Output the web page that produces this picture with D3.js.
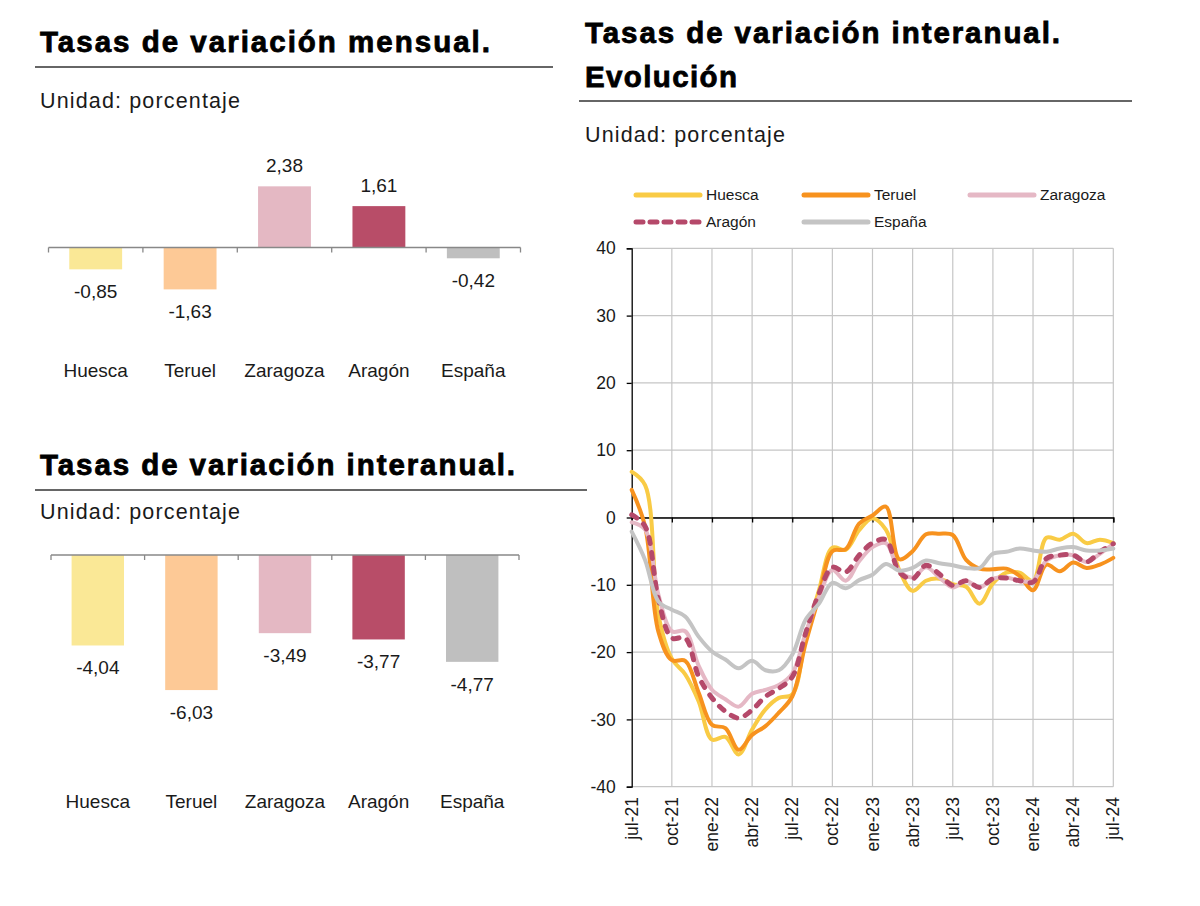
<!DOCTYPE html>
<html><head><meta charset="utf-8">
<script src="https://cdn.jsdelivr.net/npm/d3@7"></script>
<style>
body{margin:0;background:#fff}
svg text{font-family:"Liberation Sans",Arial,Helvetica,sans-serif;fill:#1a1a1a}
</style>
</head><body>
<svg id="c" width="1200" height="906"></svg>
<script>
// ---------- DATA ----------
const categories = ["Huesca","Teruel","Zaragoza","Aragón","España"];
const mensual = [-0.85,-1.63,2.38,1.61,-0.42];
const interanual = [-4.04,-6.03,-3.49,-3.77,-4.77];
const barColors = ["#FAE896","#FDC996","#E4B8C3","#B84D68","#BFBFBF"];

const months = ["jul-21","ago-21","sep-21","oct-21","nov-21","dic-21","ene-22","feb-22","mar-22","abr-22","may-22","jun-22",
  "jul-22","ago-22","sep-22","oct-22","nov-22","dic-22","ene-23","feb-23","mar-23","abr-23","may-23","jun-23",
  "jul-23","ago-23","sep-23","oct-23","nov-23","dic-23","ene-24","feb-24","mar-24","abr-24","may-24","jun-24","jul-24"];
const tickMonths = ["jul-21","oct-21","ene-22","abr-22","jul-22","oct-22","ene-23","abr-23","jul-23","oct-23","ene-24","abr-24","jul-24"];
const yTicks = [40,30,20,10,0,-10,-20,-30,-40];

const huesca   = [6.8,4.8,-14.5,-21,-23.3,-27.3,-33,-32.6,-35.2,-31.5,-28.5,-26.8,-26.3,-17.8,-10.8,-4.5,-4.8,-1.9,-0.1,-1.8,-7.8,-10.9,-9.4,-9.1,-9.9,-10.3,-12.8,-9.8,-8.2,-8.2,-9.4,-3,-3.3,-2.4,-3.8,-3.3,-3.8];
const teruel   = [4.1,-1.3,-17,-21.2,-21.3,-26,-30.8,-31.3,-34.5,-32.3,-31,-29,-26.6,-18.7,-11.8,-5,-4.7,-0.9,0.3,1.6,-6.2,-5,-2.5,-2.4,-2.6,-6.3,-7.6,-7.7,-7.6,-8.7,-10.8,-7,-8,-6.7,-7.5,-7,-6];
const zaragoza = [-0.7,-1.8,-11.5,-16.9,-16.9,-22,-25.6,-27,-28.1,-26.2,-25.6,-24.9,-23.2,-17.2,-11.8,-7.8,-9.4,-6.5,-4.4,-3.8,-7.9,-8.9,-7.4,-8.9,-10.4,-9.4,-10.4,-9.1,-8.9,-9.4,-9.4,-6.4,-5.6,-5.6,-6.6,-5.4,-3.9];
const aragon   = [0.4,-1.3,-12.2,-17.9,-17.9,-23.6,-26.8,-28.8,-29.8,-28.6,-26.6,-25.4,-23.7,-17.2,-11.3,-7.4,-8.1,-5.6,-3.8,-3.3,-8.1,-9.1,-7.1,-8.4,-10.1,-9.4,-10.4,-9.1,-9,-9.4,-9.6,-6.1,-5.6,-5.6,-6.6,-5.1,-3.9];
const espana   = [-2.1,-6.3,-12.5,-13.7,-14.7,-17.7,-19.9,-21.1,-22.4,-21.3,-22.7,-22.7,-20.4,-15.2,-12.8,-9.7,-10.5,-9.3,-8.5,-6.9,-7.9,-7.5,-6.4,-6.8,-7.1,-7.5,-7.5,-5.4,-5.1,-4.6,-4.9,-5.1,-4.6,-4.4,-4.9,-4.9,-4.6];

const seriesNames = ["Huesca","Teruel","Zaragoza","Aragón","España"];
const seriesData = [huesca, teruel, zaragoza, aragon, espana];
const lineColors = ["#F9CB45","#F7921E","#E5B8C5","#B5496A","#C4C4C4"];

// ---------- DRAW ----------
const svg = d3.select("#c");

function title(txt, x, y, len) {
  svg.append("text").attr("x", x).attr("y", y).text(txt)
    .attr("font-size", 29.5).attr("font-weight", "bold")
    .style("fill", "#000").attr("stroke", "#000").attr("stroke-width", 0.8)
    .attr("textLength", len).attr("lengthAdjust", "spacing");
}
function rule(x1, x2, y) {
  svg.append("line").attr("x1", x1).attr("x2", x2).attr("y1", y).attr("y2", y)
    .attr("stroke", "#333").attr("stroke-width", 1.6);
}
function unidad(x, y) {
  svg.append("text").attr("x", x).attr("y", y).text("Unidad: porcentaje")
    .attr("font-size", 21.5).attr("textLength", 200).attr("lengthAdjust", "spacing");
}

// Top-left
title("Tasas de variación mensual.", 40, 52, 450);
rule(35, 553, 67);
unidad(40, 108);
// Bottom-left
title("Tasas de variación interanual.", 40, 475, 475);
rule(35, 587, 490);
unidad(40, 519);
// Right
title("Tasas de variación interanual.", 585, 43, 475);
title("Evolución", 585, 87, 152);
rule(579, 1132, 101);
unidad(585, 142);

const fmt = d => d3.format(".2f")(d).replace("\u2212", "-").replace(".", ",");

function barChart(values, x0, x1, zeroY, pxPerUnit, catBaseline) {
  const x = d3.scaleBand().domain(categories).range([x0, x1]).paddingInner(0.44).paddingOuter(0.22);
  const y = d3.scaleLinear().domain([-10, 10]).range([zeroY + 10 * pxPerUnit, zeroY - 10 * pxPerUnit]);
  const g = svg.append("g");
  g.selectAll("rect").data(values).join("rect")
    .attr("x", (d, i) => x(categories[i]))
    .attr("width", x.bandwidth())
    .attr("y", d => Math.min(y(d), y(0)))
    .attr("height", d => Math.abs(y(d) - y(0)))
    .attr("fill", (d, i) => barColors[i]);
  g.append("line").attr("x1", x0).attr("x2", x1).attr("y1", y(0)).attr("y2", y(0))
    .attr("stroke", "#888").attr("stroke-width", 1.5);
  const step = x.step();
  d3.range(categories.length + 1).forEach(k => {
    const tx = x0 + k * step;
    g.append("line").attr("x1", tx).attr("x2", tx).attr("y1", y(0)).attr("y2", y(0) + 5)
      .attr("stroke", "#888").attr("stroke-width", 1.3);
  });
  g.selectAll("text.v").data(values).join("text").attr("class", "v")
    .attr("x", (d, i) => x(categories[i]) + x.bandwidth() / 2)
    .attr("y", d => d >= 0 ? y(d) - 14 : y(d) + 29)
    .attr("text-anchor", "middle").attr("font-size", 19)
    .text(fmt);
  g.selectAll("text.c").data(categories).join("text").attr("class", "c")
    .attr("x", d => x(d) + x.bandwidth() / 2).attr("y", catBaseline)
    .attr("text-anchor", "middle").attr("font-size", 19).text(d => d);
}
barChart(mensual, 48.5, 520.5, 247.5, 25.7, 377);
barChart(interanual, 51, 519, 555, 22.4, 808);

// Line chart
const X0 = 631.7, X1 = 1113.3, Ytop = 248.3, Ybot = 786.7;
const x = d3.scalePoint().domain(months).range([X0, X1]);
const y = d3.scaleLinear().domain([-40, 40]).range([Ybot, Ytop]);
const lg = svg.append("g");
lg.selectAll("line.hg").data(yTicks).join("line").attr("class", "hg")
  .attr("x1", X0).attr("x2", X1).attr("y1", d => y(d)).attr("y2", d => y(d))
  .attr("stroke", "#c6c6c6").attr("stroke-width", 1.2);
lg.selectAll("line.vg").data(tickMonths.slice(1)).join("line").attr("class", "vg")
  .attr("x1", d => x(d)).attr("x2", d => x(d)).attr("y1", Ytop).attr("y2", Ybot)
  .attr("stroke", "#c6c6c6").attr("stroke-width", 1.2);
const yAxis = d3.axisLeft(y).tickValues(yTicks).tickSize(5).tickFormat(d => String(d));
const ya = lg.append("g").attr("transform", `translate(${X0},0)`).call(yAxis);
ya.select(".domain").attr("stroke", "#000").attr("stroke-width", 1.3);
ya.selectAll(".tick line").attr("stroke", "#000").attr("stroke-width", 1.3);
ya.selectAll(".tick text").attr("font-size", 17.5).attr("x", -16).style("fill", "#1a1a1a")
  .attr("font-family", "Liberation Sans, Arial, sans-serif");
const xAxis = d3.axisBottom(x).tickValues(tickMonths).tickSize(5).tickFormat("");
const xa = lg.append("g").attr("transform", `translate(0,${y(0)})`).call(xAxis);
xa.select(".domain").attr("stroke", "#000").attr("stroke-width", 1.3);
xa.selectAll(".tick line").attr("stroke", "#000").attr("stroke-width", 1.3);
lg.selectAll("text.xl").data(tickMonths).join("text").attr("class", "xl")
  .attr("transform", d => `translate(${x(d)},797) rotate(-90)`)
  .attr("text-anchor", "end").attr("dy", "0.35em").attr("font-size", 17.5).text(d => d);
const line = d3.line().x((d, i) => x(months[i])).y(d => y(d)).curve(d3.curveCatmullRom.alpha(0.5));
seriesData.forEach((s, k) => {
  const p = lg.append("path").datum(s).attr("d", line)
    .attr("fill", "none").attr("stroke", lineColors[k])
    .attr("stroke-width", k === 3 ? 5 : 4).attr("stroke-linejoin", "round").attr("stroke-linecap", "round");
  if (k === 3) p.attr("stroke-dasharray", "6,9");
});
const legendPos = [[636, 195], [804, 195], [970, 195], [636, 222], [804, 222]];
seriesNames.forEach((n, k) => {
  const [lx, ly] = legendPos[k];
  const l = lg.append("line").attr("x1", lx).attr("x2", lx + 64).attr("y1", ly).attr("y2", ly)
    .attr("stroke", lineColors[k]).attr("stroke-width", 5).attr("stroke-linecap", "round");
  if (k === 3) l.attr("stroke-dasharray", "7,7");
  lg.append("text").attr("x", lx + 70).attr("y", ly).attr("dy", "0.35em")
    .attr("font-size", 15.5).text(n);
});
</script>
</body></html>
